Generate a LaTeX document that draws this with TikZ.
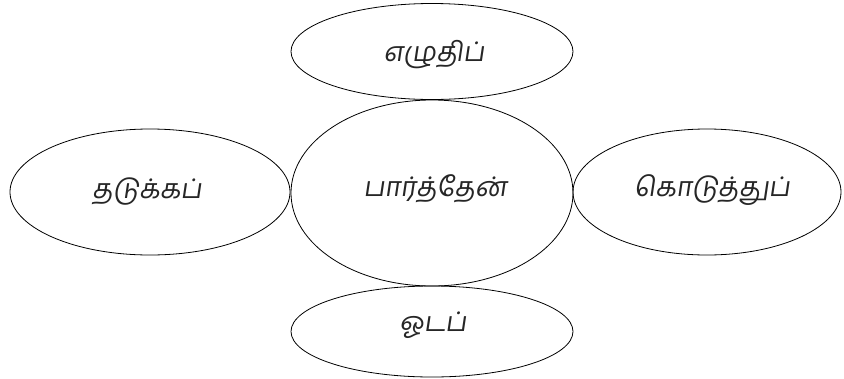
\documentclass[tikz,border=0pt]{standalone}
\usepackage{fontspec}
\newfontfamily\tamilfont[Script=Tamil,FakeSlant=0.15]{Hind Madurai}
\usetikzlibrary{shapes.geometric}
\begin{document}
\begin{tikzpicture}[x=1pt,y=-1pt,
  oval/.style={draw=black,line width=0.8pt,ellipse,inner sep=0pt},
  lbl/.style={font=\tamilfont\fontsize{27}{32}\selectfont,text=black!85,inner sep=0pt}]
\useasboundingbox (0,0) rectangle (844,378);
\node[oval,minimum width=282pt,minimum height=96pt] (top) at (432,51.5) {};
\node[oval,minimum width=282pt,minimum height=186pt] (mid) at (432,193) {};
\node[oval,minimum width=280pt,minimum height=126pt] (left) at (150,192) {};
\node[oval,minimum width=268pt,minimum height=126pt] (right) at (707,192) {};
\node[oval,minimum width=282pt,minimum height=91pt] (bot) at (432,331.5) {};
\node[lbl] (ttop) at (434,55) {எழுதிப்};
\node[lbl] (tmid) at (435,189) {பார்த்தேன்};
\node[lbl] (tleft) at (147,192) {தடுக்கப்};
\node[lbl] (tright) at (712,190) {கொடுத்துப்};
\node[lbl] (tbot) at (433,325) {ஓடப்};
\end{tikzpicture}
\end{document}
